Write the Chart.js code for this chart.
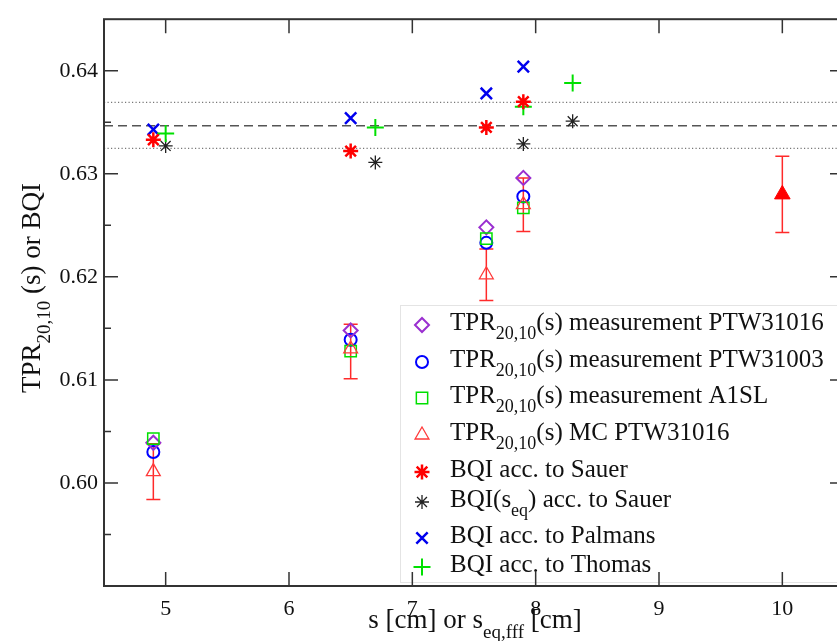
<!DOCTYPE html>
<html><head><meta charset="utf-8">
<script src="https://cdn.jsdelivr.net/npm/chart.js@4.4.0/dist/chart.umd.min.js"></script>
<style>
html,body{margin:0;padding:0;overflow:hidden;background:#fff;width:837px;height:641px}
#wrap{position:absolute;left:0;top:0;width:900px;height:641px}
</style>
</head><body><div id="wrap"><canvas id="c" width="900" height="641"></canvas></div>
<script>
// ---- data ----
const xTicks = [5, 6, 7, 8, 9, 10];
const yTicks = [0.60, 0.61, 0.62, 0.63, 0.64];
const yMinorTicks = [0.595, 0.605, 0.615, 0.625, 0.635];

const sMeas = [4.9, 6.5, 7.6, 7.9];
const tprPTW31016 = [0.6039, 0.6148, 0.6248, 0.6296];
const tprPTW31003 = [0.6030, 0.6139, 0.6233, 0.6278];
const tprA1SL = [0.6043, 0.6128, 0.6237, 0.6267];
const tprMC = [0.6011, 0.6130, 0.6202, 0.6270];
const tprMCErrDown = [0.0027, 0.0029, 0.0025, 0.0026];
const tprMCErrUp = [0.0027, 0.0024, 0.0025, 0.0026];

const bqiSauer = [0.6333, 0.6322, 0.6345, 0.6370];
const bqiPalmans = [0.6343, 0.6354, 0.6378, 0.6404];

const sEq = [5.0, 6.7, 7.9, 8.3];
const bqiSauerSeq = [0.6327, 0.6311, 0.6329, 0.6351];
const bqiThomas = [0.6339, 0.6345, 0.6365, 0.6388];

const refX = [10];
const refY = [0.6280];
const refErr = [0.0037];

const meanLine = 0.63465;
const bandLines = [0.63247, 0.63692];
const xRange = [4.5, 10.5];

const legendLabels = [
  [{t:'TPR'},{t:'20,10',sub:true},{t:'(s) measurement PTW31016'}],
  [{t:'TPR'},{t:'20,10',sub:true},{t:'(s) measurement PTW31003'}],
  [{t:'TPR'},{t:'20,10',sub:true},{t:'(s) measurement A1SL'}],
  [{t:'TPR'},{t:'20,10',sub:true},{t:'(s) MC PTW31016'}],
  [{t:'BQI acc. to Sauer'}],
  [{t:'BQI(s'},{t:'eq',sub:true},{t:') acc. to Sauer'}],
  [{t:'BQI acc. to Palmans'}],
  [{t:'BQI acc. to Thomas'}]
];
const xTitle = [{t:'s [cm] or s'},{t:'eq,fff',sub:true},{t:' [cm]'}];
const yTitle = [{t:'TPR'},{t:'20,10',sub:true},{t:' (s) or BQI'}];

// ---- helpers ----
const FONT = '"Liberation Serif", "DejaVu Serif", serif';
const pts = (xs, ys) => xs.map((x, i) => ({x: x, y: ys[i]}));
function richWidth(ctx, parts, F) {
  let w = 0;
  parts.forEach(p => { ctx.font = (p.sub ? Math.round(F*0.7) : F) + 'px ' + FONT; w += ctx.measureText(p.t).width; });
  return w;
}
function drawRich(ctx, parts, x, y, F) {
  let cx = x;
  ctx.textAlign = 'left'; ctx.textBaseline = 'alphabetic';
  parts.forEach(p => {
    ctx.font = (p.sub ? Math.round(F*0.7) : F) + 'px ' + FONT;
    ctx.fillText(p.t, cx, y + (p.sub ? F*0.36 : 0));
    cx += ctx.measureText(p.t).width;
  });
}

const markerStyles = [
  {pointStyle:'rectRot', radius:7, borderWidth:2, color:'#9a2fd0'},
  {pointStyle:'circle', radius:6, borderWidth:2, color:'#0000ff'},
  {pointStyle:'rect', radius:8, borderWidth:1.5, color:'#00e000'},
  {pointStyle:'triangle', radius:8, borderWidth:1.3, color:'#ff3a3a'},
  {pointStyle:'star', radius:7.5, borderWidth:2.5, color:'#ff0000'},
  {pointStyle:'star', radius:7, borderWidth:1.3, color:'#222222'},
  {pointStyle:'crossRot', radius:8, borderWidth:2.5, color:'#0000ee'},
  {pointStyle:'cross', radius:8.5, borderWidth:2, color:'#00e000'}
];
const seriesData = [
  pts(sMeas, tprPTW31016), pts(sMeas, tprPTW31003), pts(sMeas, tprA1SL), pts(sMeas, tprMC),
  pts(sMeas, bqiSauer), pts(sEq, bqiSauerSeq), pts(sMeas, bqiPalmans), pts(sEq, bqiThomas)
];
const drawOrder = [3, 4, 2, 1, 5, 7, 8, 6]; // lower = drawn on top

const datasets = [];
seriesData.forEach((d, i) => {
  const m = markerStyles[i];
  datasets.push({
    data: d, showLine: false, pointStyle: m.pointStyle, pointRadius: m.radius,
    pointBorderWidth: m.borderWidth, pointBorderColor: m.color,
    pointBackgroundColor: 'rgba(0,0,0,0)', order: drawOrder[i]
  });
});
datasets.push({
  data: pts(refX, refY), showLine: false, pointStyle: 'triangle', pointRadius: 9,
  pointBorderWidth: 1, pointBorderColor: '#ff0000', pointBackgroundColor: '#ff0000', order: 1
});
datasets.push({
  data: [{x: xRange[0], y: meanLine}, {x: xRange[1], y: meanLine}], showLine: true,
  pointRadius: 0, borderColor: '#555', borderWidth: 1.5, borderDash: [9, 5], order: 20
});
bandLines.forEach(v => datasets.push({
  data: [{x: xRange[0], y: v}, {x: xRange[1], y: v}], showLine: true,
  pointRadius: 0, borderColor: '#777', borderWidth: 1.2, borderDash: [1.2, 2.3], order: 20
}));

const errPlugin = {
  id: 'errbars',
  beforeDatasetsDraw(chart) {
    const ctx = chart.ctx, xs = chart.scales.x, ys = chart.scales.y;
    const bars = [];
    sMeas.forEach((x, i) => bars.push([x, tprMC[i], tprMCErrDown[i], tprMCErrUp[i]]));
    refX.forEach((x, i) => bars.push([x, refY[i], refErr[i], refErr[i]]));
    ctx.save();
    ctx.strokeStyle = '#ff2a2a'; ctx.lineWidth = 1.5;
    bars.forEach(b => {
      const px = xs.getPixelForValue(b[0]);
      const y1 = ys.getPixelForValue(b[1] - b[2]), y2 = ys.getPixelForValue(b[1] + b[3]);
      ctx.beginPath();
      ctx.moveTo(px, y1); ctx.lineTo(px, y2);
      ctx.moveTo(px - 7, y1); ctx.lineTo(px + 7, y1);
      ctx.moveTo(px - 7, y2); ctx.lineTo(px + 7, y2);
      ctx.stroke();
    });
    ctx.restore();
  }
};

const decoPlugin = {
  id: 'deco',
  afterDraw(chart) {
    const ctx = chart.ctx, xs = chart.scales.x, ys = chart.scales.y, a = chart.chartArea;
    ctx.save();
    // legend box
    const lx = 400, ly = 305;
    ctx.fillStyle = '#fff';
    ctx.fillRect(lx, ly, 500, 583 - ly);
    ctx.strokeStyle = '#c8c8c8'; ctx.lineWidth = 1;
    ctx.setLineDash([1, 1]);
    ctx.strokeRect(lx + 0.5, ly + 0.5, 500, 583 - ly - 1);
    ctx.setLineDash([]);
    const baselines = [330, 367, 403, 440, 477, 507, 543, 572];
    legendLabels.forEach((parts, i) => {
      const m = markerStyles[i];
      ctx.strokeStyle = m.color; ctx.fillStyle = 'rgba(0,0,0,0)';
      ctx.lineWidth = m.borderWidth;
      Chart.helpers.drawPoint(ctx, {pointStyle: m.pointStyle, radius: m.radius, borderWidth: m.borderWidth, rotation: 0}, 422, baselines[i] - 5);
      ctx.fillStyle = '#111';
      drawRich(ctx, parts, 450, baselines[i], 25);
    });
    // frame
    ctx.strokeStyle = '#333'; ctx.lineWidth = 2;
    ctx.strokeRect(a.left, a.top, a.right - a.left, a.bottom - a.top);
    ctx.beginPath();
    xTicks.forEach(v => {
      const px = xs.getPixelForValue(v);
      ctx.moveTo(px, a.bottom); ctx.lineTo(px, a.bottom - 14);
      ctx.moveTo(px, a.top); ctx.lineTo(px, a.top + 14);
    });
    yTicks.forEach(v => {
      const py = ys.getPixelForValue(v);
      ctx.moveTo(a.left, py); ctx.lineTo(a.left + 14, py);
      ctx.moveTo(a.right, py); ctx.lineTo(a.right - 14, py);
    });
    yMinorTicks.forEach(v => {
      const py = ys.getPixelForValue(v);
      ctx.moveTo(a.left, py); ctx.lineTo(a.left + 7, py);
      ctx.moveTo(a.right, py); ctx.lineTo(a.right - 7, py);
    });
    ctx.lineWidth = 1.5;
    ctx.stroke();
    // axis titles
    ctx.fillStyle = '#111';
    const wx = richWidth(ctx, xTitle, 27);
    drawRich(ctx, xTitle, 475 - wx / 2, 628, 27);
    ctx.save();
    ctx.translate(40, 288);
    ctx.rotate(-Math.PI / 2);
    const wy = richWidth(ctx, yTitle, 27);
    drawRich(ctx, yTitle, -wy / 2, 0, 27);
    ctx.restore();
    ctx.restore();
  }
};

new Chart(document.getElementById('c'), {
  type: 'scatter',
  data: {datasets: datasets},
  plugins: [errPlugin, decoPlugin],
  options: {
    responsive: false, animation: false,
    layout: {padding: {left: 0, right: 56, top: 15, bottom: 0}},
    plugins: {legend: {display: false}, tooltip: {enabled: false}},
    scales: {
      x: {
        type: 'linear', min: xRange[0], max: xRange[1],
        afterBuildTicks: s => { s.ticks = xTicks.map(v => ({value: v})); },
        afterFit: s => { s.height = 55; },
        grid: {display: false, drawTicks: false}, border: {display: false},
        ticks: {autoSkip: false, maxRotation: 0, padding: 10, color: '#111',
          font: {family: FONT, size: 22}, callback: v => String(v)}
      },
      y: {
        type: 'linear', min: 0.59, max: 0.645,
        afterBuildTicks: s => { s.ticks = yTicks.map(v => ({value: v})); },
        afterFit: s => { s.width = 104; },
        grid: {display: false, drawTicks: false}, border: {display: false},
        ticks: {autoSkip: false, padding: 6, color: '#111',
          font: {family: FONT, size: 22}, callback: v => v.toFixed(2)}
      }
    }
  }
});
</script>
</body></html>
